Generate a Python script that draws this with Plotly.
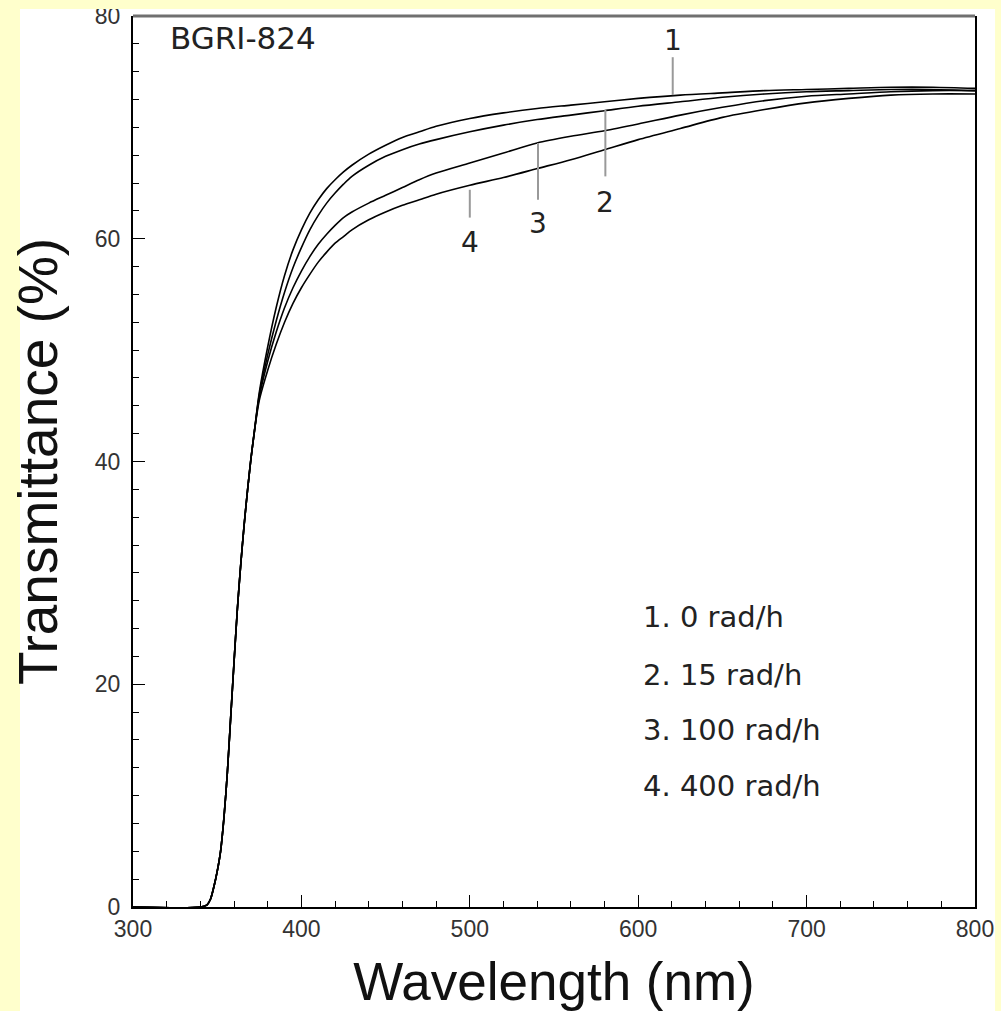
import plotly.graph_objects as go

# ---- data ----
wavelength = [300, 340, 344, 346, 348, 350, 352, 354, 356, 358, 360, 362, 364, 366, 368, 370, 372,
              375, 380, 385, 390, 395, 400, 405, 410, 415, 420, 425, 430, 440, 450, 460, 470, 480,
              500, 520, 540, 560, 580, 600, 625, 650, 675, 700, 725, 750, 775, 800]

common_rise = [0, 0, 0.2, 0.7, 1.8, 3.2, 5.0, 8.0, 12.0, 17.0, 22.0, 26.8, 30.8, 34.3, 37.4, 40.2, 42.6]

t_0 = common_rise + [46.2, 50.3, 53.8, 56.7, 59.0, 60.8, 62.3, 63.5, 64.5, 65.3, 66.0, 66.6, 67.6, 68.4,
                     69.1, 69.6, 70.1, 70.8, 71.3, 71.7, 72.0, 72.3, 72.6, 72.9, 73.1, 73.3, 73.4, 73.5,
                     73.6, 73.6, 73.5]
t_15 = common_rise + [46.0, 49.6, 52.6, 55.2, 57.4, 59.2, 60.8, 62.1, 63.2, 64.1, 64.9, 65.6, 66.6, 67.4,
                      68.0, 68.5, 68.9, 69.6, 70.2, 70.7, 71.1, 71.5, 71.9, 72.3, 72.7, 73.0, 73.2, 73.3,
                      73.4, 73.4, 73.3]
t_100 = common_rise + [45.8, 49.0, 51.6, 53.8, 55.6, 57.1, 58.4, 59.5, 60.4, 61.2, 61.9, 62.4, 63.2, 63.9,
                       64.6, 65.3, 65.9, 66.8, 67.7, 68.6, 69.2, 69.7, 70.3, 71.1, 71.8, 72.4, 72.8, 73.0,
                       73.2, 73.3, 73.3]
t_400 = common_rise + [45.5, 48.2, 50.5, 52.5, 54.2, 55.6, 56.8, 57.9, 58.8, 59.6, 60.2, 60.8, 61.7, 62.4,
                       63.0, 63.5, 64.0, 64.8, 65.5, 66.3, 67.1, 68.0, 68.9, 69.9, 70.9, 71.6, 72.2, 72.6,
                       72.9, 73.0, 73.0]

series = [t_0, t_15, t_100, t_400]
curve_labels = ["1", "2", "3", "4"]
legend_texts = ["1. 0 rad/h", "2. 15 rad/h", "3. 100 rad/h", "4. 400 rad/h"]
dose_names = ["0 rad/h", "15 rad/h", "100 rad/h", "400 rad/h"]

# leader lines for curve labels: x position, line start, line end, label y
leader_x = [620.5, 580.5, 540.5, 500.0]
leader_y0 = [72.9, 71.6, 68.6, 64.4]
leader_y1 = [76.3, 65.6, 63.5, 61.9]
label_y = [77.8, 63.3, 61.4, 59.7]

legend_x = 601.7
legend_y = [26.0, 20.8, 15.9, 10.9]

sample_name = "BGRI-824"
x_ticks = [300, 400, 500, 600, 700, 800]
y_ticks = [0, 20, 40, 60, 80]

FONT = "Liberation Sans"
TXT_FONT = "DejaVu Sans"
YELLOW = "#FFFFCC"

fig = go.Figure()
for vals, name in zip(series, dose_names):
    fig.add_trace(go.Scatter(x=wavelength, y=vals, mode="lines", name=name,
                             line=dict(color="black", width=1.6, shape="spline", smoothing=0.8),
                             showlegend=False))

shapes = []
annotations = []
for lx, y0, y1, ly, lab in zip(leader_x, leader_y0, leader_y1, label_y, curve_labels):
    shapes.append(dict(type="line", xref="x", yref="y", x0=lx, x1=lx, y0=y0, y1=y1,
                       line=dict(color="#999999", width=2)))
    annotations.append(dict(x=lx, y=ly, xref="x", yref="y", text=lab, showarrow=False,
                            font=dict(family=TXT_FONT, size=28, color="#222")))

for ly, txt in zip(legend_y, legend_texts):
    annotations.append(dict(x=legend_x, y=ly, xref="x", yref="y", text=txt, showarrow=False,
                            xanchor="left", font=dict(family=TXT_FONT, size=29, color="#222")))

annotations.append(dict(x=365.3, y=78.0, xref="x", yref="y", text=sample_name, showarrow=False,
                        font=dict(family=TXT_FONT, size=31, color="#222")))

# top border (gray) of the frame
shapes.append(dict(type="line", xref="paper", yref="paper", x0=0, x1=1, y0=1, y1=1,
                   line=dict(color="#707070", width=3), layer="above"))
# yellow page edges
for x0, x1, y0, y1 in [(-0.2, -0.1342, -0.2, 1.2), (1.0238, 1.1, -0.2, 1.2), (-0.2, 1.1, 1.0079, 1.2)]:
    shapes.append(dict(type="rect", xref="paper", yref="paper", x0=x0, x1=x1, y0=y0, y1=y1,
                       fillcolor=YELLOW, line=dict(width=0), layer="above"))

fig.update_layout(
    width=1001, height=1011,
    margin=dict(l=133, r=26, t=16, b=104, autoexpand=False),
    paper_bgcolor="white", plot_bgcolor="white",
    font=dict(family=FONT, color="#222"),
    shapes=shapes, annotations=annotations,
    xaxis=dict(range=[300, 800], tickvals=x_ticks, ticks="inside", ticklen=12, tickwidth=1,
               tickcolor="black", showline=True, linecolor="black", linewidth=2, mirror=False,
               showgrid=False, zeroline=False, automargin=False,
               tickfont=dict(family=FONT, size=23, color="#333"), ticklabelstandoff=0,
               minor=dict(dtick=20, ticks="inside", ticklen=6, tickcolor="black", tickwidth=1),
               title=dict(text="Wavelength (nm)", font=dict(family=FONT, size=53, color="#111"),
                          standoff=22)),
    yaxis=dict(range=[0, 80], tickvals=y_ticks, ticks="inside", ticklen=12, tickwidth=1,
               tickcolor="black", showline=True, linecolor="black", linewidth=2, mirror=True,
               showgrid=False, zeroline=False, automargin=False,
               tickfont=dict(family=FONT, size=23, color="#333"), ticklabelstandoff=6,
               minor=dict(dtick=2.5, ticks="inside", ticklen=6, tickcolor="black", tickwidth=1),
               title=dict(text="Transmittance (%)", font=dict(family=FONT, size=55, color="#111"),
                          standoff=20)),
)

fig.write_html("out.html", config={"displayModeBar": False},
               post_script="document.body.style.margin='0';")
